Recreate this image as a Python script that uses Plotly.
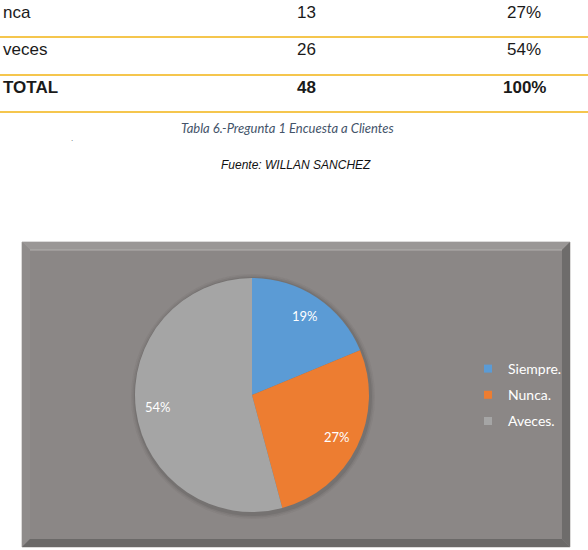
import math
import plotly.graph_objects as go

# ---------------- data ----------------
table_labels = ["nca", "veces", "TOTAL"]
table_counts = ["13", "26", "48"]
table_pcts = ["27%", "54%", "100%"]

pie_labels = ["Siempre.", "Nunca.", "Aveces."]
pie_values = [9, 13, 26]
pie_colors = ["#5b9bd5", "#ed7d31", "#a5a5a5"]

caption = "Tabla 6.-Pregunta 1 Encuesta a Clientes"
source = "Fuente: WILLAN SANCHEZ"

W, H = 588, 550


def px(x):
    return x / W


def py(y):
    return 1 - y / H


def path(points):
    return "M " + " L ".join(f"{px(x):.5f},{py(y):.5f}" for x, y in points) + " Z"


fig = go.Figure()

# pie
cx, cy, r = 252, 395, 117
fig.add_trace(go.Pie(
    labels=pie_labels,
    values=pie_values,
    sort=False,
    direction="clockwise",
    rotation=0,
    marker=dict(colors=pie_colors, line=dict(width=0)),
    textinfo="none",
    domain=dict(x=[px(cx - r), px(cx + r)], y=[py(cy + r), py(cy - r)]),
    showlegend=False,
    hoverinfo="label+value+percent",
))

# legend entries (square markers in slice colours)
for lab, col in zip(pie_labels, pie_colors):
    fig.add_trace(go.Scatter(
        x=[None], y=[None], mode="markers", name=lab,
        marker=dict(symbol="square", size=8, color=col),
        showlegend=True, legendgroup=lab,
    ))

shapes = []
# chart frame with bevel
L, T, R, B, bw = 22, 242, 570, 547, 8
def pshape(pts, fill, line=None):
    return dict(type="path", xref="paper", yref="paper", path=path(pts),
                fillcolor=fill, line=line or dict(width=0), layer="below")

shapes.append(pshape([(L, T), (R, T), (R, B), (L, B)], "#8b8786", dict(color="#b9b7b6", width=1)))
shapes.append(pshape([(L, T), (R, T), (R - bw, T + bw), (L + bw, T + bw)], "#9a9796"))
shapes.append(pshape([(L, T), (L + bw, T + bw), (L + bw, B - bw), (L, B)], "#8f8c8b"))
shapes.append(pshape([(R, T), (R, B), (R - bw, B - bw), (R - bw, T + bw)], "#6e6c6b"))
shapes.append(pshape([(L, B), (R, B), (R - bw, B - bw), (L + bw, B - bw)], "#6b6968"))
shapes.append(dict(type="line", xref="paper", yref="paper",
                   x0=px(L + bw), x1=px(R - bw), y0=py(T + bw), y1=py(T + bw),
                   line=dict(color="#b3b0ae", width=1), layer="below"))
# soft pie shadow
for grow, alpha in [(5, 0.05), (3.5, 0.08), (2, 0.12)]:
    shapes.append(dict(type="circle", xref="paper", yref="paper",
                       x0=px(cx - r - grow + 1), x1=px(cx + r + grow + 1),
                       y0=py(cy + r + grow + 2), y1=py(cy - r - grow + 1),
                       fillcolor=f"rgba(50,48,48,{alpha})", line=dict(width=0), layer="below"))

# table rules
for yline in [37, 75, 112]:
    shapes.append(dict(type="line", xref="paper", yref="paper",
                       x0=0, x1=1, y0=py(yline), y1=py(yline),
                       line=dict(color="#f5c64d", width=2)))

annotations = []
row_y = [12, 49, 87]
row_x = [1, 1, 1]
for i, (lab, cnt, pct) in enumerate(zip(table_labels, table_counts, table_pcts)):
    bold = i == len(table_labels) - 1
    fmt = (lambda s: f"<b>{s}</b>") if bold else (lambda s: s)
    for txt, xx, anc in [(lab, row_x[i], "left"), (cnt, 306, "center"), (pct, 524, "center")]:
        annotations.append(dict(x=px(xx), y=py(row_y[i]), xref="paper", yref="paper",
                                text=fmt(txt), showarrow=False, xanchor=anc, yanchor="middle",
                                font=dict(family="Liberation Sans", size=17, color="#1a1a1a")))

# slice percentage labels, placed along each slice's mid-angle
total = sum(pie_values)
cum = 0
for v in pie_values:
    mid = (cum + v / 2) / total * 2 * math.pi
    cum += v
    lx = cx + 0.81 * r * math.sin(mid)
    ly = cy - 0.81 * r * math.cos(mid)
    annotations.append(dict(x=px(lx), y=py(ly), xref="paper", yref="paper",
                            text=f"{round(v / total * 100)}%", showarrow=False,
                            xanchor="center", yanchor="middle",
                            font=dict(family="Lato", size=13, color="white")))

annotations.append(dict(x=px(287), y=py(128), xref="paper", yref="paper",
                        text=f"<i>{caption}</i>", showarrow=False, xanchor="center", yanchor="middle",
                        font=dict(family="Lato", size=13, color="#44546a")))
annotations.append(dict(x=px(72), y=py(138), xref="paper", yref="paper",
                        text=".", showarrow=False, xanchor="center", yanchor="middle",
                        font=dict(family="Liberation Sans", size=8, color="#555555")))
annotations.append(dict(x=px(296), y=py(165), xref="paper", yref="paper",
                        text=f"<i>{source}</i>", showarrow=False, xanchor="center", yanchor="middle",
                        font=dict(family="Liberation Sans", size=12, color="#111111")))

fig.update_layout(
    width=W, height=H,
    margin=dict(l=0, r=0, t=0, b=0),
    paper_bgcolor="white",
    plot_bgcolor="rgba(0,0,0,0)",
    xaxis=dict(visible=False, domain=[0.98, 1]),
    yaxis=dict(visible=False, domain=[0.98, 1]),
    shapes=shapes,
    annotations=annotations,
    legend=dict(
        x=px(468), y=py(395), xanchor="left", yanchor="middle",
        bgcolor="rgba(0,0,0,0)",
        font=dict(family="Lato", size=14, color="white"),
        tracegroupgap=5, itemwidth=30,
    ),
    showlegend=True,
)

fig.write_html("out.html")
